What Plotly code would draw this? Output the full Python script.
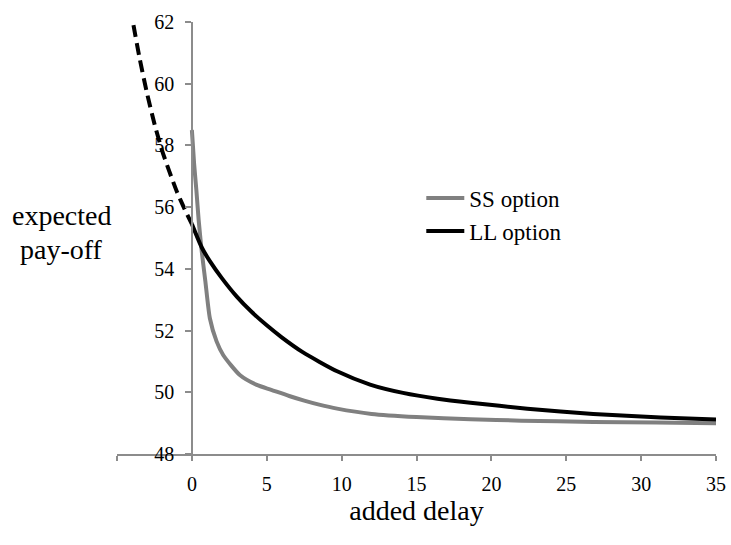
import plotly.graph_objects as go

# SS option (smaller-sooner)
ss_x = [0, 0.15, 0.3, 0.45, 0.65, 0.9, 1.2, 1.65, 2.1, 3.2, 4.33, 5.3, 6.5, 7.5, 8.5, 9.7, 12, 15, 18.6, 22, 26.8, 31, 35]
ss_y = [58.5, 57.4, 56.55, 55.6, 54.6, 53.6, 52.4, 51.65, 51.2, 50.56, 50.24, 50.08, 49.88, 49.73, 49.6, 49.47, 49.3, 49.2, 49.13, 49.08, 49.04, 49.02, 49.0]

# LL option (larger-later)
ll_x = [0, 0.65, 1.2, 2.0, 3.0, 4.0, 5.0, 6.0, 7.4, 9.7, 11.9, 14.1, 16.4, 18.6, 22.4, 26.8, 31.3, 35]
ll_y = [55.45, 54.7, 54.25, 53.7, 53.1, 52.6, 52.17, 51.78, 51.3, 50.68, 50.25, 49.98, 49.79, 49.66, 49.47, 49.3, 49.18, 49.12]

# LL option extrapolated to negative delays (dashed)
ext_x = [-3.9, -3.5, -3.0, -2.5, -2.0, -1.5, -1.0, -0.5, 0]
ext_y = [61.9, 60.85, 59.7, 58.7, 57.85, 57.15, 56.5, 55.95, 55.45]

x_ticks = [-5, 0, 5, 10, 15, 20, 25, 30, 35]
x_tick_labels = ["", "0", "5", "10", "15", "20", "25", "30", "35"]
y_ticks = [48, 50, 52, 54, 56, 58, 60, 62]

FONT = "Liberation Serif"

fig = go.Figure()
fig.add_trace(go.Scatter(x=ss_x, y=ss_y, mode="lines", name="SS option",
                         line=dict(color="#808080", width=4, shape="spline", smoothing=0.6)))
fig.add_trace(go.Scatter(x=ll_x, y=ll_y, mode="lines", name="LL option",
                         line=dict(color="#000000", width=4, shape="spline", smoothing=0.6)))
fig.add_trace(go.Scatter(x=ext_x, y=ext_y, mode="lines", showlegend=False,
                         line=dict(color="#000000", width=4, dash="12px,6px", shape="spline", smoothing=0.6)))

fig.update_layout(
    width=731, height=545,
    margin=dict(l=117, r=15, t=22, b=91, autoexpand=False),
    paper_bgcolor="white", plot_bgcolor="white",
    font=dict(family=FONT, color="black", size=20),
    showlegend=True,
    legend=dict(x=0.508, y=0.642, xanchor="left", yanchor="top", itemwidth=38,
                font=dict(family=FONT, size=23, color="black"),
                bgcolor="rgba(0,0,0,0)", tracegroupgap=0),
    xaxis=dict(range=[-5, 35], tickvals=x_ticks, ticktext=x_tick_labels,
               showline=True, linecolor="#8c8c8c", linewidth=1.5,
               ticks="outside", ticklen=5, tickcolor="#8c8c8c", tickwidth=1.5,
               showgrid=False, zeroline=False, ticklabelstandoff=6, automargin=False,
               tickfont=dict(family=FONT, size=20),
               title=dict(text="added delay", font=dict(family=FONT, size=28), standoff=5)),
    yaxis=dict(range=[48, 62], tickvals=y_ticks, anchor="free", position=0.125,
               showline=True, linecolor="#8c8c8c", linewidth=1.5,
               ticks="outside", ticklen=6, tickcolor="#8c8c8c", tickwidth=1.5,
               showgrid=False, zeroline=False, ticklabelstandoff=7, automargin=False,
               tickfont=dict(family=FONT, size=20)),
    annotations=[
        dict(text="expected", xref="paper", yref="paper",
             x=-0.092, y=0.553, xanchor="center", yanchor="middle",
             showarrow=False, font=dict(family=FONT, size=28, color="black")),
        dict(text="pay-off", xref="paper", yref="paper",
             x=-0.092, y=0.474, xanchor="center", yanchor="middle",
             showarrow=False, font=dict(family=FONT, size=28, color="black")),
    ],
)

# remove the default page margin so the figure fills the 731x545 window exactly
fig.write_html("out.html",
               config={"displayModeBar": False},
               post_script="document.body.style.margin='0';document.body.style.overflow='hidden';")
